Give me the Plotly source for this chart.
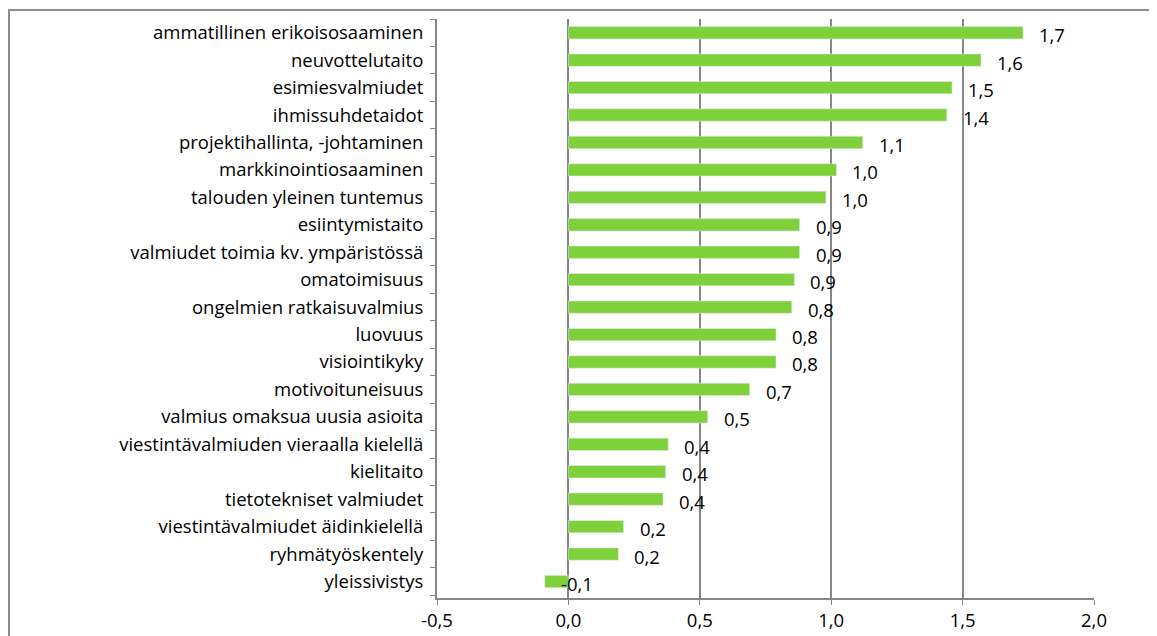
import plotly.graph_objects as go

# Kategoriat ylhäältä alas (kuten kuvassa)
categories = [
    "ammatillinen erikoisosaaminen",
    "neuvottelutaito",
    "esimiesvalmiudet",
    "ihmissuhdetaidot",
    "projektihallinta, -johtaminen",
    "markkinointiosaaminen",
    "talouden yleinen tuntemus",
    "esiintymistaito",
    "valmiudet toimia kv. ympäristössä",
    "omatoimisuus",
    "ongelmien ratkaisuvalmius",
    "luovuus",
    "visiointikyky",
    "motivoituneisuus",
    "valmius omaksua uusia asioita",
    "viestintävalmiuden vieraalla kielellä",
    "kielitaito",
    "tietotekniset valmiudet",
    "viestintävalmiudet äidinkielellä",
    "ryhmätyöskentely",
    "yleissivistys",
]
values = [1.73, 1.57, 1.46, 1.44, 1.12, 1.02, 0.98, 0.88, 0.88, 0.86, 0.85,
          0.79, 0.79, 0.69, 0.53, 0.38, 0.37, 0.36, 0.21, 0.19, -0.09]
x_ticks = [-0.5, 0.0, 0.5, 1.0, 1.5, 2.0]


def fi(v):
    # suomalainen desimaalipilkku
    return f"{v:.1f}".replace(".", ",")


BAR_COLOR = "#7FD13B"
GRID = "#868686"
FONT = "Open Sans, Liberation Sans, sans-serif"
FS = 18.5

fig = go.Figure(
    go.Bar(
        x=values,
        y=categories,
        orientation="h",
        marker_color=BAR_COLOR,
        width=0.45,
        hovertemplate="%{y}: %{x:.2f}<extra></extra>",
    )
)

# arvotunnisteet palkkien perään
for cat, v in zip(categories, values):
    fig.add_annotation(
        x=v, y=cat, text=fi(v),
        showarrow=False, xanchor="left", xshift=14, yshift=-2,
        font=dict(size=FS, color="#000000", family=FONT),
    )

# sivun body-marginaali (8px) huomioitu
W, H = 1149, 628
L, R, T, B = 429, 63, 11, 38
pw, ph = W - L - R, H - T - B

# ulkokehys (vasen ja yläreuna näkyvät)
fig.add_shape(
    type="rect", xref="paper", yref="paper",
    x0=(1 - L) / pw, x1=(W + 20 - L) / pw,
    y0=-(B + 20) / ph, y1=1 + (T - 2) / ph,
    line=dict(color="#8c8c8c", width=2), layer="below",
)

fig.update_layout(
    width=W, height=H,
    margin=dict(l=L, r=R, t=T, b=B),
    paper_bgcolor="white", plot_bgcolor="white",
    showlegend=False,
    font=dict(family=FONT, size=FS, color="#000000"),
    xaxis=dict(
        range=[-0.5, 2.0], tickvals=x_ticks, ticktext=[fi(t) for t in x_ticks],
        showgrid=True, gridcolor=GRID, gridwidth=1.5,
        zeroline=False, showline=True, linecolor=GRID, linewidth=2,
        ticks="outside", ticklen=5, tickcolor=GRID,
        ticklabelstandoff=0, automargin=False,
        tickfont=dict(size=FS),
    ),
    yaxis=dict(
        categoryorder="array", categoryarray=categories[::-1],
        showgrid=False, zeroline=False,
        showline=True, linecolor=GRID, linewidth=2,
        ticks="outside", ticklen=5, tickcolor=GRID, tickson="boundaries",
        ticklabelstandoff=8, automargin=False,
        tickfont=dict(size=FS),
    ),
)

fig.write_html("out.html")
